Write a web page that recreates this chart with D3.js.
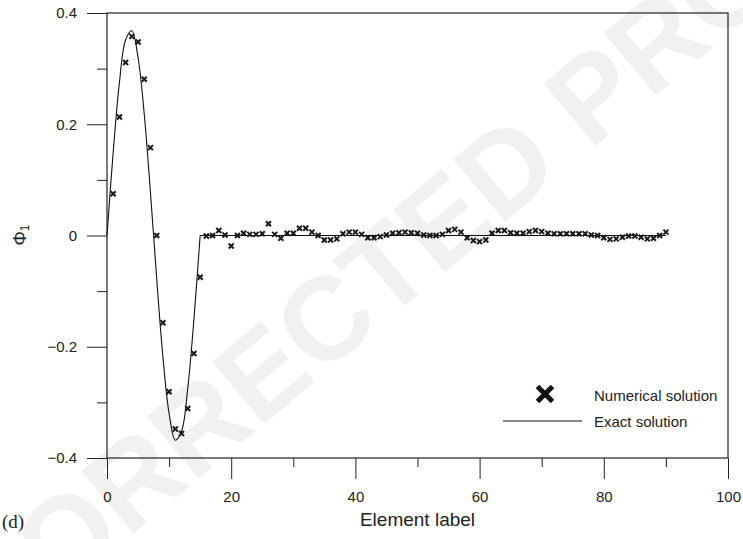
<!DOCTYPE html>
<html>
<head>
<meta charset="utf-8">
<script src="https://cdn.jsdelivr.net/npm/d3@7"></script>
<style>
  html, body { margin: 0; padding: 0; background: #fff; }
  svg { display: block; font-family: "Liberation Sans", Arial, sans-serif; }
</style>
</head>
<body>
<div class="d3Chart"></div>
<script>
// numerical solution, one value per element
const elements = d3.range(1, 91)
const numericalPhi = [
  0.075, 0.213, 0.311, 0.358, 0.348, 0.281, 0.158, 0.000, -0.157, -0.281,
  -0.348, -0.356, -0.311, -0.212, -0.075, -0.001, 0.000, 0.009, 0.001, -0.019,
  0.000, 0.004, 0.002, 0.002, 0.003, 0.021, 0.002, -0.005, 0.004, 0.004,
  0.013, 0.013, 0.006, 0.000, -0.008, -0.008, -0.006, 0.003, 0.006, 0.006,
  0.002, -0.004, -0.004, -0.002, 0.001, 0.004, 0.005, 0.006, 0.005, 0.004,
  0.001, 0.000, 0.000, 0.002, 0.009, 0.011, 0.006, -0.004, -0.009, -0.011,
  -0.008, 0.004, 0.009, 0.009, 0.005, 0.004, 0.004, 0.007, 0.009, 0.007,
  0.004, 0.003, 0.003, 0.003, 0.003, 0.003, 0.003, 0.001, 0.000, -0.004,
  -0.007, -0.006, -0.003, -0.001, -0.001, -0.003, -0.006, -0.005, 0.000, 0.006
]

// exact solution: wave part, then flat part
const waveX = d3.range(0, 16)
const wavePhi = [
  0.000, 0.150, 0.275, 0.352, 0.368, 0.320, 0.218, 0.077,
  -0.077, -0.218, -0.320, -0.368, -0.352, -0.275, -0.150, 0.000
]
const flatX = [15, 90]
const flatPhi = [0, 0]

const xMajor = [0, 20, 40, 60, 80, 100]
const xMinor = [10, 30, 50, 70, 90]
const yMajor = [-0.4, -0.2, 0, 0.2, 0.4]
const yMinor = [-0.3, -0.1, 0.1, 0.3]

const width = 743
const height = 539
const plotL = 107, plotR = 728, plotT = 13, plotB = 458

const x = d3.scaleLinear().domain([0, 100]).range([plotL, plotR])
const y = d3.scaleLinear().domain([-0.4, 0.4]).range([plotB, plotT])

const svg = d3.select('.d3Chart')
  .append('svg')
  .attr('width', width)
  .attr('height', height)

// watermark
svg.append('text')
  .attr('transform', 'translate(360,290) rotate(-40)')
  .attr('text-anchor', 'middle')
  .attr('dominant-baseline', 'central')
  .attr('font-size', 118)
  .attr('font-weight', 'bold')
  .attr('fill', '#f1f1f1')
  .text('UNCORRECTED PROOF')

// 绘制坐标轴
const fmtY = d => (d === 0 ? '0' : d3.format('.1f')(d))

svg.append('g')
  .attr('transform', `translate(0,${plotB})`)
  .call(d3.axisBottom(x).tickValues(xMajor).tickSize(21).tickPadding(12.5).tickFormat(d3.format('d')))
  .call(g => g.select('.domain').remove())
  .call(g => g.selectAll('text').attr('font-size', 15).attr('fill', '#222'))
  .call(g => g.selectAll('line').attr('stroke', '#222'))

svg.append('g')
  .attr('transform', `translate(0,${plotB})`)
  .call(d3.axisBottom(x).tickValues(xMinor).tickSize(9).tickFormat(''))
  .call(g => g.select('.domain').remove())
  .call(g => g.selectAll('line').attr('stroke', '#222'))

svg.append('g')
  .attr('transform', `translate(${plotL},0)`)
  .call(d3.axisLeft(y).tickValues(yMajor).tickSize(20).tickPadding(10).tickFormat(fmtY))
  .call(g => g.select('.domain').remove())
  .call(g => g.selectAll('text').attr('font-size', 15).attr('fill', '#222'))
  .call(g => g.selectAll('line').attr('stroke', '#222'))

svg.append('g')
  .attr('transform', `translate(${plotL},0)`)
  .call(d3.axisLeft(y).tickValues(yMinor).tickSize(10).tickFormat(''))
  .call(g => g.select('.domain').remove())
  .call(g => g.selectAll('line').attr('stroke', '#222'))

// frame
svg.append('rect')
  .attr('x', plotL)
  .attr('y', plotT)
  .attr('width', plotR - plotL)
  .attr('height', plotB - plotT)
  .attr('fill', 'none')
  .attr('stroke', '#222')
  .attr('stroke-width', 1.2)

// exact solution
const wave = d3.line()
  .curve(d3.curveCatmullRom)
  .x((d, i) => x(waveX[i]))
  .y(d => y(d))

const flat = d3.line()
  .x((d, i) => x(flatX[i]))
  .y(d => y(d))

svg.append('path')
  .attr('d', wave(wavePhi))
  .attr('fill', 'none')
  .attr('stroke', '#111')
  .attr('stroke-width', 1.1)

svg.append('path')
  .attr('d', flat(flatPhi))
  .attr('fill', 'none')
  .attr('stroke', '#111')
  .attr('stroke-width', 1.1)

// numerical solution markers
const cross = s => `M${-s},${-s}L${s},${s}M${-s},${s}L${s},${-s}`

svg.append('g')
  .selectAll('path')
  .data(numericalPhi)
  .enter()
  .append('path')
  .attr('transform', (d, i) => `translate(${x(elements[i])},${y(d)})`)
  .attr('d', cross(2.5))
  .attr('stroke', '#1a1a1a')
  .attr('stroke-width', 2)

// legend
const legend = svg.append('g')
legend.append('path')
  .attr('transform', 'translate(545,394)')
  .attr('d', cross(7.5))
  .attr('stroke', '#111')
  .attr('stroke-width', 5)
legend.append('text')
  .attr('x', 594).attr('y', 395)
  .attr('dominant-baseline', 'central')
  .attr('font-size', 15)
  .attr('fill', '#222')
  .text('Numerical solution')
legend.append('line')
  .attr('x1', 503).attr('x2', 582)
  .attr('y1', 421).attr('y2', 421)
  .attr('stroke', '#111')
  .attr('stroke-width', 1.1)
legend.append('text')
  .attr('x', 594).attr('y', 421)
  .attr('dominant-baseline', 'central')
  .attr('font-size', 15)
  .attr('fill', '#222')
  .text('Exact solution')

// axis titles
svg.append('text')
  .attr('x', (plotL + plotR) / 2)
  .attr('y', 519)
  .attr('text-anchor', 'middle')
  .attr('dominant-baseline', 'central')
  .attr('font-size', 19)
  .attr('fill', '#222')
  .text('Element label')

const yTitle = svg.append('text')
  .attr('transform', 'translate(20,235) rotate(-90)')
  .attr('text-anchor', 'middle')
  .attr('dominant-baseline', 'central')
  .attr('font-size', 18)
  .attr('fill', '#222')
yTitle.append('tspan').text('Φ')
yTitle.append('tspan').attr('font-size', 12).attr('dy', 5).text('1')

svg.append('text')
  .attr('x', 2)
  .attr('y', 521)
  .attr('dominant-baseline', 'central')
  .attr('font-family', '"Liberation Serif", "Times New Roman", serif')
  .attr('font-size', 19)
  .attr('fill', '#222')
  .text('(d)')
</script>
</body>
</html>
